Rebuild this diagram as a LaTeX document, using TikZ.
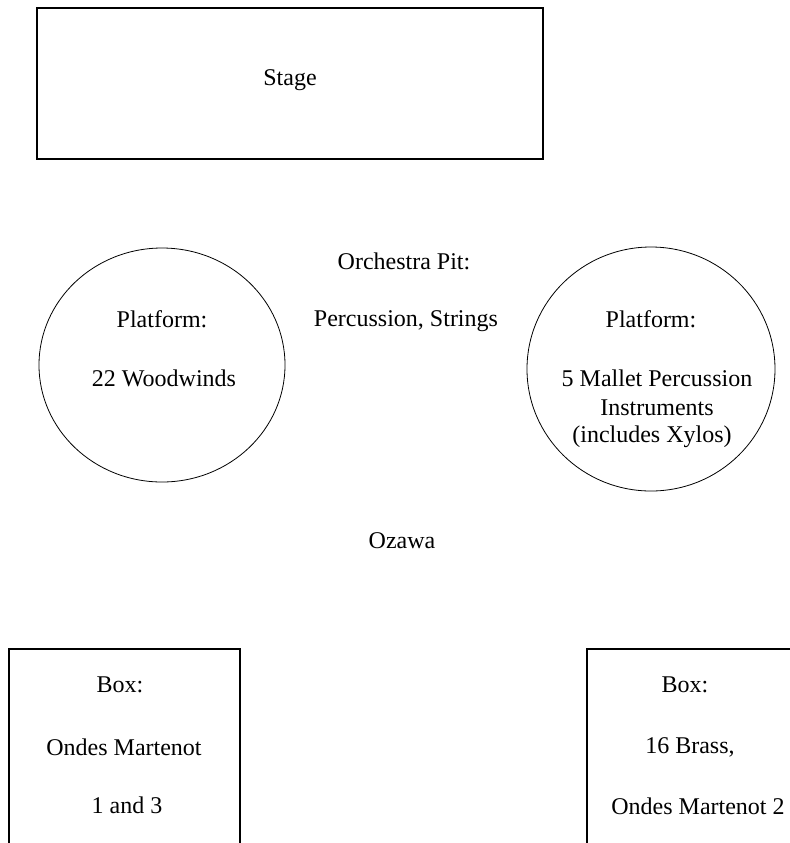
\documentclass[tikz,border=0pt]{standalone}
\usepackage{fontspec}
\setmainfont{Liberation Serif}

\begin{document}
\begin{tikzpicture}[x=0.5pt, y=-0.5pt, font=\fontsize{12}{14}\selectfont,
  label/.style={inner sep=0pt, align=center}]

  \useasboundingbox (0,0) rectangle (790,843);
  \clip (0,0) rectangle (790,843);

  \draw[line width=0.6pt] (37,8) rectangle (543,159);
  \node[label] (stage) at (290,80) {Stage};

  \draw (162,365) ellipse (123 and 117);
  \draw (651,369) ellipse (124 and 122);

  \node[label] (pit) at (404,261) {Orchestra Pit:};
  \node[label] (pitlist) at (406,321) {Percussion, Strings};

  \node[label] (woodplat) at (162,319) {Platform:};
  \node[label] (woodlist) at (164,378) {22 Woodwinds};

  \node[label] (malletplat) at (651,319) {Platform:};
  \node[label] (malletlist) at (657,378) {5 Mallet Percussion};
  \node[label] (malletins) at (657,408) {Instruments};
  \node[label] (malletxyl) at (652,437) {(includes Xylos)};

  \node[label] (ozawa) at (402,541) {Ozawa};

  \draw[line width=0.6pt] (9,900) -- (9,649) -- (240,649) -- (240,900);
  \node[label] (boxl) at (120,685) {Box:};
  \node[label] (boxlone) at (124,747) {Ondes Martenot};
  \node[label] (boxltwo) at (127,805) {1 and 3};

  \draw[line width=0.6pt] (587,900) -- (587,649) -- (820,649);
  \node[label] (boxr) at (685,685) {Box:};
  \node[label] (boxrone) at (690,747) {16 Brass,};
  \node[label] (boxrtwo) at (698,806) {Ondes Martenot 2};

\end{tikzpicture}
\end{document}
